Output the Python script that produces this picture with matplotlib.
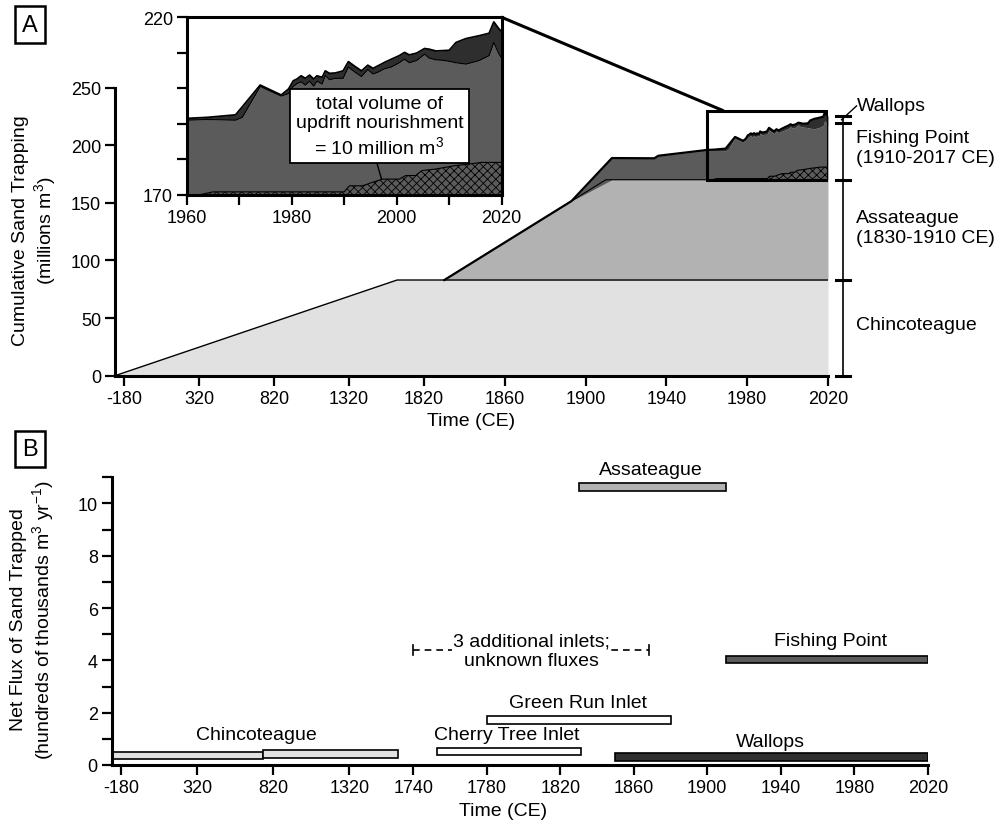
import numpy as np
import matplotlib.pyplot as plt
from matplotlib.patches import Rectangle, ConnectionPatch

plt.rcParams['font.family'] = ['Liberation Sans', 'DejaVu Sans']
plt.rcParams['mathtext.fontset'] = 'custom'
plt.rcParams['mathtext.rm'] = 'Liberation Sans'
plt.rcParams['mathtext.default'] = 'regular'
plt.rcParams['hatch.linewidth'] = 0.6

# ---------------- panel A: cumulative trapping (millions m3) ----------------
chinc_years = [-240, 1640, 2020]
chinc_cum = [0, 83, 83]
assa_years = [1830, 1910, 2020]
assa_cum = [83, 170, 170]
fp_early_years = [1893, 1913, 1934, 1936]
fp_early_cum = [151.5, 188.8, 188.6, 190.8]

# zoomed window 1960-2020 (inset)
zoom_years = [1960, 1964, 1969.3, 1970.6, 1974, 1978, 1979.4, 1980.3, 1981, 1981.8,
              1982.6, 1983.4, 1984.2, 1984.8, 1985.8, 1986.4, 1987.2, 1988.3, 1989.8,
              1990.8, 1992, 1993.3, 1994.5, 1995.5, 1996.4, 1997.7, 1999, 2000.5,
              2001.5, 2002.4, 2003.8, 2005.3, 2006.2, 2007.5, 2008.7, 2010, 2011.3,
              2013.2, 2015.7, 2017.6, 2018.5, 2019.5, 2020]
total_cum = [191.5, 191.8, 192.5, 194.8, 200.9, 198.1, 199.8, 202.1, 202.6, 203.5,
             202.8, 203.7, 202.6, 203.5, 203.1, 204.9, 204.2, 204.3, 204.9,
             207.5, 206.2, 204.9, 206.5, 205.6, 206.3, 207.3, 208.2, 209.2,
             210.1, 209.4, 209.9, 211.2, 211.0, 210.5, 210.6, 210.7, 212.9,
             214.0, 214.8, 215.5, 218.7, 216.7, 216.0]
fp_cum = [191.0, 191.2, 191.0, 191.8, 200.5, 197.8, 198.5, 200.5, 201.3, 201.8,
          200.9, 202.0, 200.6, 202.0, 201.2, 203.6, 202.4, 202.8, 202.8,
          206.0, 204.6, 203.3, 205.3, 204.0, 204.5, 205.5, 206.0, 207.2,
          208.2, 207.2, 207.8, 209.6, 208.5, 208.0, 207.9, 207.6, 207.2,
          206.8, 207.8, 209.2, 212.9, 209.6, 208.5]
nour_years = [1960, 1962.5, 1965, 1990, 1991, 1993.5, 1995.4, 1997.3, 2000.5, 2001.7,
              2003.6, 2004.8, 2007.3, 2009.2, 2011.1, 2013.6, 2016.1, 2020]
nour_cum = [170, 170, 170.8, 170.8, 172.5, 172.5, 173.5, 174.4, 174.4, 175.4,
            175.4, 176.8, 177.2, 177.7, 178.2, 178.6, 179.1, 179.1]

bracket_levels = [0, 83, 170, 219, 225]

# ---------------- panel B: net flux (hundreds of thousands m3/yr) ----------------
b_names = ['Chincoteague', 'Chincoteague', 'Cherry Tree Inlet', 'Green Run Inlet',
           'Assateague', 'Fishing Point', 'Wallops']
b_start = [-240, 750, 1753, 1780, 1830, 1910, 1850]
b_end = [750, 1640, 1831, 1880, 1910, 2020, 2020]
b_flux = [0.37, 0.41, 0.52, 1.73, 10.64, 4.04, 0.31]
b_colors = ['#e1e1e1', '#e1e1e1', 'white', 'white', '#b2b2b2', '#5b5b5b', '#303030']
unknown_span = [1740, 1868]
unknown_flux = 4.38

c_chinc, c_assa, c_fp, c_wal = '#e1e1e1', '#b2b2b2', '#5b5b5b', '#2e2e2e'


def squeeze(brk, k):
    def fwd(x):
        x = np.asarray(x, dtype=float)
        return np.where(x < brk, brk + (x - brk) * k, x)

    def inv(x):
        x = np.asarray(x, dtype=float)
        return np.where(x < brk, brk + (x - brk) / k, x)
    return fwd, inv


def style_axis(ax):
    for s in ax.spines.values():
        s.set_linewidth(2.2)
    ax.tick_params(which='both', direction='out', length=7, width=1.6,
                   labelsize=13, pad=3)


W, H = 998, 828
fig = plt.figure(figsize=(W / 100, H / 100), dpi=100)


def px_box(l, r, b, t):
    return [l / W, 1 - b / H, (r - l) / W, (b - t) / H]


# ---------- main panel A ----------
ax = fig.add_axes(px_box(115, 828, 376.7, 88.5))
ax.set_xscale('function', functions=squeeze(1820, 0.0743))
ax.set_xlim(-240, 2020)
ax.set_ylim(0, 250)
ax.spines['top'].set_visible(False)
ax.spines['right'].set_visible(False)
style_axis(ax)

stretch = 1.2  # the zoom box in panel A is drawn taller than its 170-220 range
main_years = fp_early_years + zoom_years
main_fp = fp_early_cum + [170 + stretch * (v - 170) for v in fp_cum]
main_tot = fp_early_cum + [170 + stretch * (v - 170) for v in total_cum]
main_nour = [170 + stretch * (v - 170) for v in nour_cum]

ax.fill_between(chinc_years, 0, chinc_cum, color=c_chinc, lw=0)
ax.plot(chinc_years, chinc_cum, color='black', lw=1.0)
ax.fill_between(assa_years, 83, assa_cum, color=c_assa, lw=0)
ax.plot(assa_years, assa_cum, color='black', lw=0.8)
assa_under = np.interp(main_years, assa_years, assa_cum)
ax.fill_between(main_years, assa_under, main_fp, color=c_fp, lw=0)
ax.fill_between(main_years, main_fp, main_tot, color=c_wal, lw=0)
ax.fill_between(nour_years, 170, main_nour, facecolor=c_fp, edgecolor='black',
                hatch='xxxx', lw=0)
ax.plot(nour_years, main_nour, color='black', lw=0.8)
ax.plot([1830] + main_years, [83] + main_tot, color='black', lw=1.6)
ax.add_patch(Rectangle((1960, 170), 60, 60, fill=False, ec='black', lw=2.2, zorder=5))

ticks_a = [-180, 320, 820, 1320, 1820, 1860, 1900, 1940, 1980, 2020]
ax.set_xticks(ticks_a)
ax.set_xticklabels([str(t) for t in ticks_a])
ax.set_yticks(range(0, 251, 50))
ax.set_xlabel('Time (CE)', fontsize=14, labelpad=4)

# right-hand brackets
yt = ax.get_yaxis_transform()
ax.plot([1.021, 1.021], [bracket_levels[0], bracket_levels[-1]], color='black',
        lw=1.2, transform=yt, clip_on=False)
for lv in bracket_levels:
    ax.plot([1.011, 1.031], [lv, lv], color='black', lw=2.2, transform=yt,
            clip_on=False)
ax.plot([1.019, 1.040], [222, 234], color='black', lw=1.0, transform=yt, clip_on=False)
ax.text(1.041, 234, 'Wallops', fontsize=14, va='center', ha='left', transform=yt)
ax.text(1.039, 198, 'Fishing Point\n(1910-2017 CE)', fontsize=14, va='center',
        ha='left', transform=yt)
ax.text(1.039, 128.7, 'Assateague\n(1830-1910 CE)', fontsize=14, va='center',
        ha='left', transform=yt)
ax.text(1.039, 44, 'Chincoteague', fontsize=14, va='center', ha='left', transform=yt)

fig.text(35 / W, 1 - 231 / H, 'Cumulative Sand Trapping\n(millions m$^3$)',
         rotation=90, ha='center', va='center', fontsize=14)

# ---------- inset ----------
axi = fig.add_axes(px_box(186.7, 501.7, 195.7, 18.3))
axi.set_xlim(1960, 2020)
axi.set_ylim(170, 220)
style_axis(axi)
axi.fill_between(zoom_years, 170, fp_cum, color=c_fp, lw=0)
axi.fill_between(zoom_years, fp_cum, total_cum, color=c_wal, lw=0)
axi.plot(zoom_years, fp_cum, color='black', lw=0.8)
axi.plot(zoom_years, total_cum, color='black', lw=1.3)
axi.fill_between(nour_years, 170, nour_cum, facecolor=c_fp, edgecolor='black',
                 hatch='xxxx', lw=0)
axi.plot(nour_years, nour_cum, color='black', lw=0.8)
axi.set_xticks(range(1960, 2021, 10))
axi.set_xticklabels(['1960', '', '1980', '', '2000', '', '2020'])
axi.set_yticks(range(170, 221, 10))
axi.set_yticklabels(['170', '', '', '', '', '220'])
axi.plot([1996.2, 1997.1], [179.1, 174.4], color='black', lw=1.0)
axi.text(1996.7, 189.4, 'total volume of\nupdrift nourishment\n= 10 million m$^3$',
         fontsize=14, ha='center', va='center', zorder=6,
         bbox=dict(boxstyle='square,pad=0.3', fc='white', ec='black', lw=1.3))

con = ConnectionPatch(xyA=(2020, 220), coordsA=axi.transData,
                      xyB=(1968, 230), coordsB=ax.transData, color='black', lw=2.2)
fig.add_artist(con)

# ---------- panel B ----------
axb = fig.add_axes(px_box(111.7, 927.8, 766, 478.3))
axb.set_xscale('function', functions=squeeze(1740, 0.0829))
axb.set_xlim(-240, 2020)
axb.set_ylim(0, 11)
axb.spines['top'].set_visible(False)
axb.spines['right'].set_visible(False)
style_axis(axb)
for s, e, f, c in zip(b_start, b_end, b_flux, b_colors):
    axb.barh(f, e - s, left=s, height=0.29, color=c, edgecolor='black', lw=1.2)
ticks_b = [-180, 320, 820, 1320, 1740, 1780, 1820, 1860, 1900, 1940, 1980, 2020]
axb.set_xticks(ticks_b)
axb.set_xticklabels([str(t) for t in ticks_b])
axb.set_yticks(range(0, 11, 2))
axb.set_yticks(range(1, 12, 2), minor=True)
axb.set_xlabel('Time (CE)', fontsize=14, labelpad=6)
axb.xaxis.set_label_coords(0.48, -0.13)

axb.plot(unknown_span, [unknown_flux] * 2, color='black', lw=1.2, ls=(0, (4, 3)))
for xe in unknown_span:
    axb.plot([xe, xe], [unknown_flux - 0.19, unknown_flux + 0.19], color='black', lw=1.2)
axb.text(1804.5, unknown_flux, '3 additional inlets;\nunknown fluxes', fontsize=14,
         ha='center', va='center',
         bbox=dict(boxstyle='square,pad=0.05', fc='white', ec='none'))

b_labels = [('Chincoteague', 712, 1.15), ('Cherry Tree Inlet', 1791, 1.15),
            ('Green Run Inlet', 1829.5, 2.40), ('Assateague', 1869, 11.28),
            ('Fishing Point', 1967.3, 4.76), ('Wallops', 1934.2, 0.89)]
for name, x, y in b_labels:
    axb.text(x, y, name, fontsize=14, ha='center', va='center', clip_on=False)

fig.text(33 / W, 1 - 620 / H,
         'Net Flux of Sand Trapped\n(hundreds of thousands m$^3$ yr$^{-1}$)',
         rotation=90, ha='center', va='center', fontsize=14)

# panel letters
for lab, y in [('A', 25.5), ('B', 450)]:
    fig.text(30 / W, 1 - y / H, lab, fontsize=17, ha='center', va='center',
             bbox=dict(boxstyle='square,pad=0.3', fc='white', ec='black', lw=1.8))

fig.savefig('out.png', dpi=100)
